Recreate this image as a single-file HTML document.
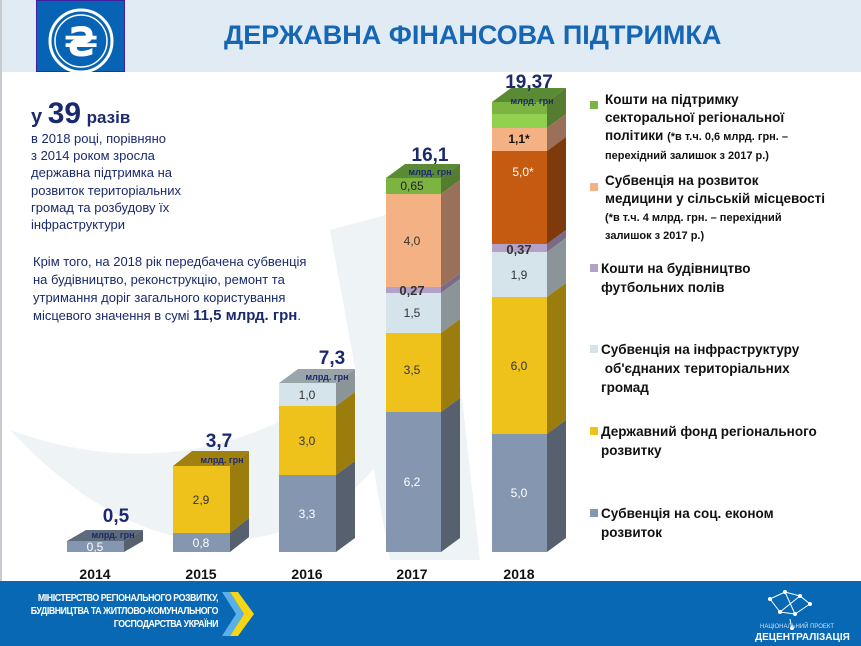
<!DOCTYPE html>
<html><head><meta charset="utf-8"><style>
body{margin:0;width:861px;height:646px;overflow:hidden;background:#fff;font-family:"Liberation Sans","DejaVu Sans",sans-serif;position:relative}
.a{position:absolute;white-space:nowrap}
.lg{position:absolute;font-weight:bold;font-size:13.5px;line-height:19px;color:#111}
.sq{position:absolute;width:8px;height:8px}
</style></head><body>
<div class="a" style="left:0;top:0;width:861px;height:72px;background:#e1ebf4"></div>
<div class="a" style="left:0;top:0;width:2px;height:581px;background:#c8ccd0"></div>
<div class="a" style="left:36px;top:0;width:89px;height:72px;background:#0763b4;border:1px solid #4020a0;box-sizing:border-box"></div>
<svg class="a" style="left:36px;top:0" width="89" height="72"><circle cx="45" cy="41" r="31" fill="none" stroke="#fff" stroke-width="3"/><circle cx="45" cy="41" r="26" fill="none" stroke="#fff" stroke-width="1.5"/><text x="45" y="56" text-anchor="middle" font-size="40" font-weight="bold" fill="#fff" font-family="DejaVu Sans">₴</text></svg>
<div class="a" style="left:224px;top:20px;font-size:27px;font-weight:bold;color:#1566b4">ДЕРЖАВНА ФІНАНСОВА ПІДТРИМКА</div>

<svg class="a" style="left:0;top:0" width="861" height="646">
<path d="M10 430 Q230 510 420 320 L440 210 Q470 400 330 510 Q170 600 10 430Z" fill="#eef3f6"/>
<path d="M330 230 L440 200 L480 560 L390 560Z" fill="#eef3f6"/>
</svg>
<svg class="a" style="left:0;top:0" width="861" height="646" font-family="Liberation Sans" font-size="12" text-anchor="middle">
<polygon points="67,541 86,530 143,530 124,541" fill="#5e6b7d"/>
<polygon points="124,541 143,530 143,541 124,552" fill="#56606e"/>
<rect x="67" y="541" width="57" height="11" fill="#8496b0"/>
<text x="95" y="551" fill="#fff">0,5</text>
<text x="113" y="538" font-size="9" font-weight="bold" fill="#1a2a6c">млрд. грн</text>
<text x="116" y="522" font-size="19" font-weight="bold" fill="#1a2a6c">0,5</text>
<polygon points="173,466 192,451 249,451 230,466" fill="#a0800e"/>
<polygon points="230,466 249,451 249,518 230,533" fill="#9a7d0c"/>
<polygon points="230,533 249,518 249,537 230,552" fill="#56606e"/>
<rect x="173" y="466" width="57" height="67" fill="#eec21b"/>
<rect x="173" y="533" width="57" height="19" fill="#8496b0"/>
<text x="201" y="504" fill="#333">2,9</text><text x="201" y="547" fill="#fff">0,8</text>
<text x="222" y="463" font-size="9" font-weight="bold" fill="#1a2a6c">млрд. грн</text>
<text x="219" y="447" font-size="19" font-weight="bold" fill="#1a2a6c">3,7</text>
<polygon points="279,383 298,369 355,369 336,383" fill="#9aa5ab"/>
<polygon points="336,383 355,369 355,392 336,406" fill="#8a9499"/>
<polygon points="336,406 355,392 355,461 336,475" fill="#9a7d0c"/>
<polygon points="336,475 355,461 355,538 336,552" fill="#56606e"/>
<rect x="279" y="383" width="57" height="23" fill="#d5e3ea"/>
<rect x="279" y="406" width="57" height="69" fill="#eec21b"/>
<rect x="279" y="475" width="57" height="77" fill="#8496b0"/>
<text x="307" y="399" fill="#333">1,0</text><text x="307" y="445" fill="#333">3,0</text><text x="307" y="518" fill="#fff">3,3</text>
<text x="327" y="380" font-size="9" font-weight="bold" fill="#1a2a6c">млрд. грн</text>
<text x="332" y="364" font-size="19" font-weight="bold" fill="#1a2a6c">7,3</text>
<polygon points="386,178 405,164 460,164 441,178" fill="#5a8a34"/>
<polygon points="441,178 460,164 460,180 441,194" fill="#557c31"/>
<polygon points="441,194 460,180 460,273 441,287" fill="#9a7158"/>
<polygon points="441,287 460,273 460,279 441,293" fill="#7a6a88"/>
<polygon points="441,293 460,279 460,319 441,333" fill="#8a9499"/>
<polygon points="441,333 460,319 460,398 441,412" fill="#9a7d0c"/>
<polygon points="441,412 460,398 460,538 441,552" fill="#56606e"/>
<rect x="386" y="178" width="55" height="16" fill="#7db340"/>
<rect x="386" y="194" width="55" height="93" fill="#f4b183"/>
<rect x="386" y="287" width="55" height="6" fill="#b4a1c8"/>
<rect x="386" y="293" width="55" height="40" fill="#d5e3ea"/>
<rect x="386" y="333" width="55" height="79" fill="#eec21b"/>
<rect x="386" y="412" width="55" height="140" fill="#8496b0"/>
<text x="412" y="190" fill="#222">0,65</text><text x="412" y="245" fill="#333">4,0</text>
<text x="412" y="295" fill="#333" font-weight="bold" font-size="13">0,27</text>
<text x="412" y="317" fill="#333">1,5</text><text x="412" y="374" fill="#333">3,5</text><text x="412" y="486" fill="#fff">6,2</text>
<text x="430" y="175" font-size="9" font-weight="bold" fill="#1a2a6c">млрд. грн</text>
<text x="430" y="161" font-size="19" font-weight="bold" fill="#1a2a6c">16,1</text>
<polygon points="492,102 511,88 566,88 547,102" fill="#5a8a34"/>
<polygon points="547,102 566,88 566,114 547,128" fill="#557c31"/>
<polygon points="547,128 566,114 566,137 547,151" fill="#9a7158"/>
<polygon points="547,151 566,137 566,230 547,244" fill="#7e3a0d"/>
<polygon points="547,244 566,230 566,238 547,252" fill="#7a6a88"/>
<polygon points="547,252 566,238 566,283 547,297" fill="#8a9499"/>
<polygon points="547,297 566,283 566,420 547,434" fill="#9a7d0c"/>
<polygon points="547,434 566,420 566,538 547,552" fill="#56606e"/>
<rect x="492" y="102" width="55" height="12" fill="#7db340"/>
<rect x="492" y="114" width="55" height="14" fill="#92d050"/>
<rect x="492" y="128" width="55" height="23" fill="#f4b183"/>
<rect x="492" y="151" width="55" height="93" fill="#c55a11"/>
<rect x="492" y="244" width="55" height="8" fill="#b4a1c8"/>
<rect x="492" y="252" width="55" height="45" fill="#d5e3ea"/>
<rect x="492" y="297" width="55" height="137" fill="#eec21b"/>
<rect x="492" y="434" width="55" height="118" fill="#8496b0"/>
<text x="519" y="143" fill="#111" font-weight="bold">1,1*</text>
<text x="523" y="176" fill="#fff">5,0*</text>
<text x="519" y="254" fill="#333" font-weight="bold" font-size="13">0,37</text>
<text x="519" y="279" fill="#333">1,9</text><text x="519" y="370" fill="#333">6,0</text><text x="519" y="497" fill="#fff">5,0</text>
<text x="532" y="104" font-size="9" font-weight="bold" fill="#1a2a6c">млрд. грн</text>
<text x="529" y="88" font-size="19" font-weight="bold" fill="#1a2a6c">19,37</text>
<g font-size="14" font-weight="bold" fill="#111">
<text x="95" y="579">2014</text><text x="201" y="579">2015</text><text x="307" y="579">2016</text><text x="412" y="579">2017</text><text x="519" y="579">2018</text></g>
</svg>

<div class="a" style="left:31px;top:97px;color:#1a2a6c;font-weight:bold;font-size:20px">у <span style="font-size:30px">39</span> <span style="font-size:17px">разів</span></div>
<div class="a" style="left:31px;top:130px;font-size:13px;line-height:17.2px;color:#1a2a6c">в 2018 році, порівняно<br>з 2014 роком зросла<br>державна підтримка на<br>розвиток територіальних<br>громад та розбудову їх<br>інфраструктури</div>
<div class="a" style="left:33px;top:253px;font-size:13px;line-height:18px;color:#1a2a6c">Крім того, на 2018 рік передбачена субвенція<br>на будівництво, реконструкцію, ремонт та<br>утримання доріг загального користування<br>місцевого значення в сумі <b style="font-size:15px">11,5 млрд. грн</b>.</div>

<div class="sq" style="left:590px;top:101px;background:#7db340"></div>
<div class="lg" style="left:605px;top:91px;line-height:18px">Кошти на підтримку<br>секторальної регіональної<br>політики <span style="font-size:11px">(*в т.ч. 0,6 млрд. грн. –</span><br><span style="font-size:11px">перехідний залишок з 2017 р.)</span></div>
<div class="sq" style="left:590px;top:183px;background:#f4b183"></div>
<div class="lg" style="left:605px;top:172px;line-height:18px">Субвенція на розвиток<br>медицини у сільській місцевості<br><span style="font-size:11px;line-height:16px">(*в т.ч. 4 млрд. грн. – перехідний<br>залишок з 2017 р.)</span></div>
<div class="sq" style="left:590px;top:264px;background:#b4a1c8"></div>
<div class="lg" style="left:601px;top:259px">Кошти на будівництво<br>футбольних полів</div>
<div class="sq" style="left:590px;top:345px;background:#d5e3ea"></div>
<div class="lg" style="left:601px;top:340px">Субвенція на інфраструктуру<br>&nbsp;об'єднаних територіальних<br>громад</div>
<div class="sq" style="left:590px;top:427px;background:#eec21b"></div>
<div class="lg" style="left:601px;top:422px">Державний фонд регіонального<br>розвитку</div>
<div class="sq" style="left:590px;top:509px;background:#8496b0"></div>
<div class="lg" style="left:601px;top:504px">Субвенція на соц. економ<br>розвиток</div>

<div class="a" style="left:0;top:581px;width:861px;height:65px;background:#0868b4"></div>
<div class="a" style="left:0;top:592px;width:218px;text-align:right;color:#fff;font-size:10px;line-height:13px;font-weight:bold;letter-spacing:-0.5px;transform:scaleX(0.88);transform-origin:right top">МІНІСТЕРСТВО РЕГІОНАЛЬНОГО РОЗВИТКУ,<br>БУДІВНИЦТВА ТА ЖИТЛОВО-КОМУНАЛЬНОГО<br>ГОСПОДАРСТВА УКРАЇНИ</div>
<svg class="a" style="left:222px;top:588px" width="36" height="52"><polygon points="0,4 8,4 22,26 8,48 0,48 14,26" fill="#5bb0e8"/><polygon points="8,4 16,4 32,26 16,48 8,48 22,26" fill="#f5d516"/></svg>
<svg class="a" style="left:760px;top:584px" width="60" height="50"><g fill="none" stroke="#fff" stroke-width="1"><path d="M10 15 L25 8 L40 12 L50 20 L35 30 L20 28 L10 15 M25 8 L35 30 M40 12 L20 28 M30 35 L32 46"/></g><g fill="#fff"><circle cx="10" cy="15" r="2"/><circle cx="25" cy="8" r="2"/><circle cx="40" cy="12" r="2"/><circle cx="50" cy="20" r="2"/><circle cx="35" cy="30" r="2"/><circle cx="20" cy="28" r="2"/><circle cx="32" cy="44" r="2"/></g></svg>
<div class="a" style="left:760px;top:624px;font-size:6px;color:#cfe2f3">НАЦІОНАЛЬНИЙ ПРОЕКТ</div>
<div class="a" style="left:755px;top:632px;font-size:10px;font-weight:bold;color:#fff">ДЕЦЕНТРАЛІЗАЦІЯ</div>
</body></html>
